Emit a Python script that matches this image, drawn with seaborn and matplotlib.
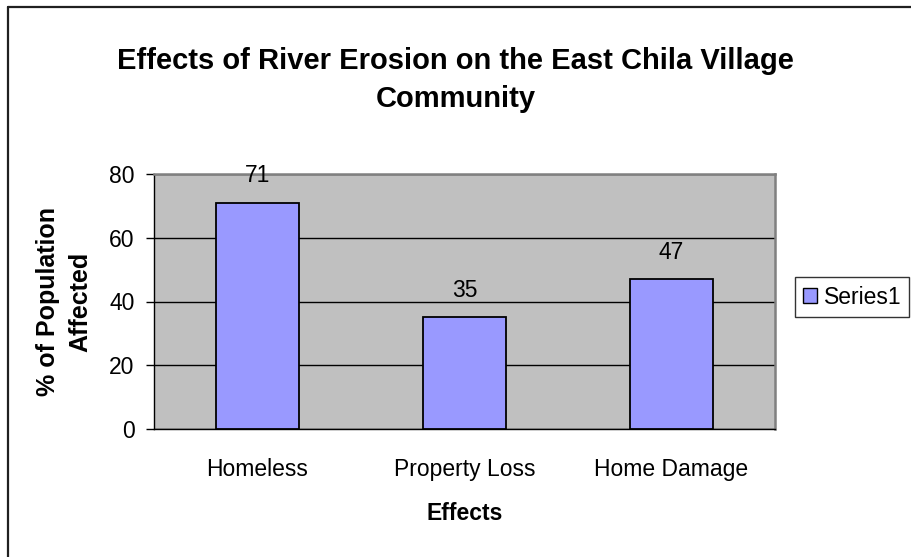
import matplotlib
matplotlib.use('Agg')
import matplotlib.pyplot as plt
import seaborn as sns
import pandas as pd
from matplotlib.lines import Line2D
from matplotlib.patches import Patch

# Chart data
effects = ['Homeless', 'Property Loss', 'Home Damage']
affected = [71, 35, 47]
series_name = 'Series1'
y_ticks = [0, 20, 40, 60, 80]

df = pd.DataFrame({'Effects': effects, 'Affected': affected})

sns.set_style('white')
plt.rcParams['font.family'] = ['Liberation Sans', 'DejaVu Sans']
plt.rcParams['text.color'] = 'black'
plt.rcParams['xtick.color'] = 'black'
plt.rcParams['ytick.color'] = 'black'

W, H = 911, 557
fig = plt.figure(figsize=(W / 100, H / 100), dpi=100)
# plot area: x 154..775 px, y 174..429 px
ax = fig.add_axes([154 / W, 1 - 429 / H, 621 / W, 255 / H])

# outer chart border (only left and top edges are inside the picture)
fig.add_artist(Line2D([7.5 / W, 7.5 / W], [0, 1 - 7 / H], transform=fig.transFigure,
                      color='#202020', linewidth=1.6))
fig.add_artist(Line2D([7.5 / W, 1], [1 - 7 / H, 1 - 7 / H], transform=fig.transFigure,
                      color='#202020', linewidth=1.6))

ax.set_facecolor('#C0C0C0')
sns.barplot(data=df, x='Effects', y='Affected', color='#9999FF', width=0.4,
            edgecolor='black', linewidth=1.3, saturation=1, ax=ax, zorder=3)

ax.set_ylim(0, 80)
ax.set_xlim(-0.5, 2.5)
ax.set_yticks(y_ticks)
ax.yaxis.grid(True, color='black', linewidth=1)
ax.set_axisbelow(True)
for side in ['top', 'right']:
    ax.spines[side].set_color('#808080')
    ax.spines[side].set_linewidth(1.8)
for side in ['left', 'bottom']:
    ax.spines[side].set_color('black')
    ax.spines[side].set_linewidth(1)

# category boundary ticks on x axis
ax.set_xticks([-0.5, 0.5, 1.5, 2.5], minor=True)
ax.set_xticks([0, 1, 2])
ax.tick_params(axis='x', which='major', length=0, pad=21, labelsize=16.5)
ax.tick_params(axis='x', which='minor', length=6, width=1, direction='out', color='black')
ax.tick_params(axis='y', length=6, width=1, direction='out', color='black',
               labelsize=16.5, left=True, pad=8)

# value labels above bars
for i, v in enumerate(affected):
    ax.annotate(str(v), (i, v), xytext=(0, 11), textcoords='offset points',
                ha='center', va='bottom', fontsize=16.5)

ax.set_xlabel('')
ax.set_ylabel('')
fig.text(465 / W, 1 - 514 / H, 'Effects', ha='center', va='center',
         fontsize=16.5, fontweight='bold')
fig.text(64 / W, 1 - 302 / H, '% of Population\nAffected', ha='center', va='center',
         rotation=90, fontsize=18, fontweight='bold', linespacing=1.45)

fig.text(0.5, 1 - 80 / H, 'Effects of River Erosion on the East Chila Village\nCommunity',
         ha='center', va='center', fontsize=21, fontweight='bold', linespacing=1.45)

leg = fig.legend(handles=[Patch(facecolor='#9999FF', edgecolor='black', label=series_name)],
                 loc='center left', bbox_to_anchor=(795 / W, 1 - 297 / H), frameon=True,
                 fontsize=16.5, handlelength=0.6, handleheight=0.6, handletextpad=0.3,
                 borderpad=0.35, borderaxespad=0, fancybox=False)
leg.get_frame().set_edgecolor('black')
leg.get_frame().set_linewidth(1)

fig.savefig('out.png', dpi=100)
